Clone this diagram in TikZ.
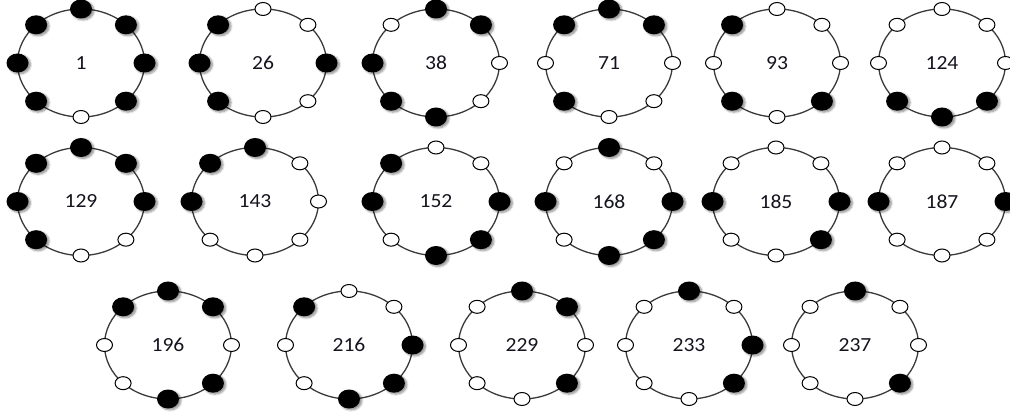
\documentclass[tikz,border=0pt]{standalone}
\usepackage{fontspec}
\setmainfont{Carlito}
\usetikzlibrary{shapes.geometric,shadows.blur}
\definecolor{ringgray}{HTML}{3A3A3A}
\definecolor{txt}{HTML}{14141E}
\tikzset{
  ringline/.style={draw=ringgray, line width=1.3pt},
  lbl/.style={inner sep=0pt, text=txt, font=\fontsize{20}{22}\selectfont},
  beadb/.style={ellipse, inner sep=0pt, minimum width=22pt, minimum height=19pt,
    fill=black, blur shadow={shadow xshift=2pt, shadow yshift=-1.5pt,
    shadow blur radius=2pt, shadow blur steps=6, shadow opacity=45}},
  beadw/.style={ellipse, inner sep=0pt, minimum width=16pt, minimum height=13pt,
    fill=white, draw=black, line width=1pt},
}
\newcommand{\beadring}[5]{%
  \draw[ringline] (#2,#3) ellipse [x radius=63.5, y radius=54];
  \node[lbl] (#1) at (#2,#3) {\scalebox{1.08}[1]{#4}};
  \foreach \c [count=\i from 0] in {#5} {
    \pgfmathsetmacro\ang{90-45*\i}
    \node[bead\c] (#1-\i) at ({#2+63.5*cos(\ang)},{#3-54*sin(\ang)}) {};
  }%
}
\begin{document}
\begin{tikzpicture}[x=1pt,y=-1pt]
\path[use as bounding box] (0,0) rectangle (1010,414);
% row 1
\beadring{r1}{81}{63}{1}{b,b,b,b,w,b,b,b}
\beadring{r26}{263}{63}{26}{w,w,b,w,w,b,b,b}
\beadring{r38}{436}{63}{38}{b,b,w,w,b,b,b,w}
\beadring{r71}{609}{63}{71}{b,b,w,w,w,b,w,b}
\beadring{r93}{777}{63}{93}{w,w,w,b,w,b,w,b}
\beadring{r124}{942}{63}{124}{w,w,w,b,b,b,w,w}
% row 2
\beadring{r129}{81}{201.5}{129}{b,b,b,w,w,b,b,b}
\beadring{r143}{255}{201.5}{143}{b,w,w,w,w,w,b,b}
\beadring{r152}{436}{201.5}{152}{w,w,b,b,b,w,b,b}
\beadring{r168}{609}{201.5}{168}{b,w,b,b,b,w,b,w}
\beadring{r185}{776}{201.5}{185}{w,w,b,b,w,w,b,w}
\beadring{r187}{942}{201.5}{187}{w,w,b,w,w,w,b,w}
% row 3
\beadring{r196}{168}{345}{196}{b,b,w,b,b,w,w,b}
\beadring{r216}{349}{345}{216}{w,w,b,b,b,w,w,b}
\beadring{r229}{522}{345}{229}{b,b,w,b,w,w,w,w}
\beadring{r233}{689}{345}{233}{b,w,b,b,w,w,w,w}
\beadring{r237}{855}{345}{237}{b,w,w,b,w,w,w,w}
\end{tikzpicture}
\end{document}
